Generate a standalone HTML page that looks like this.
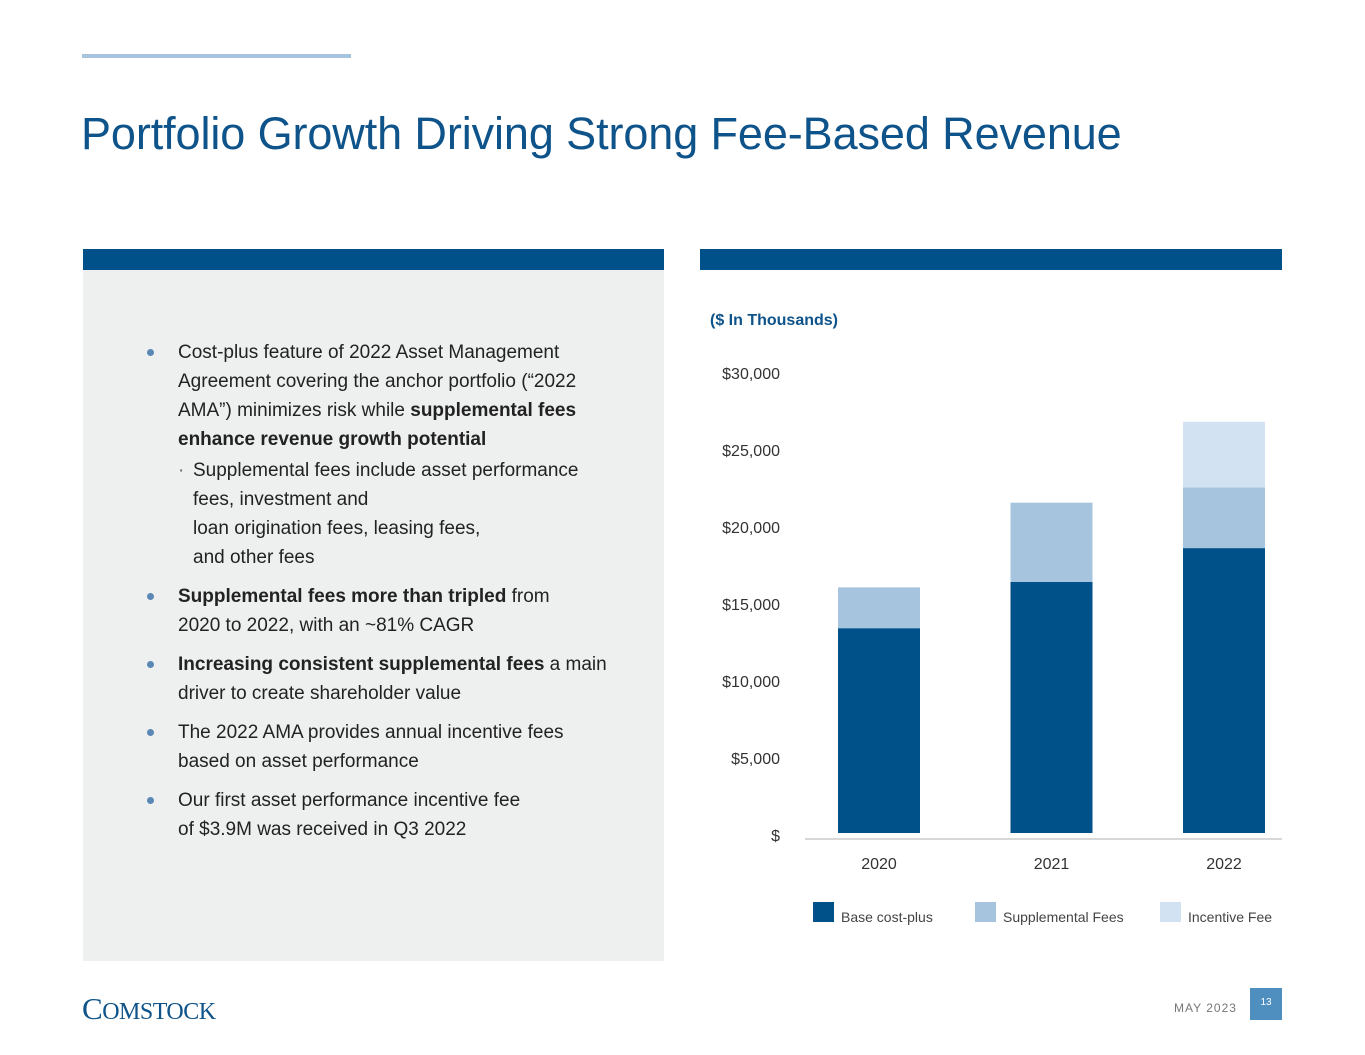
<!DOCTYPE html>
<html><head><meta charset="utf-8"><style>
body{margin:0;width:1365px;height:1055px;background:#fff;font-family:"Liberation Sans",sans-serif;position:relative;overflow:hidden}
.abs{position:absolute}
ul{margin:0;padding:0;list-style:none}
li{position:relative;font-size:19px;line-height:29px;color:#222;margin-bottom:10px}
li.main:before{content:"";position:absolute;left:-31px;top:11px;width:7px;height:7px;border-radius:50%;background:#5b87b5}
li.sub{padding-left:15px;margin-top:2px}
li.sub:before{content:"·";position:absolute;left:0;top:0;color:#666}
b{font-weight:bold}
</style></head><body>
<div class="abs" style="left:82px;top:54px;width:269px;height:4px;background:#a7c4df"></div>
<div class="abs" style="left:81px;top:108px;font-size:45px;color:#0e5389;white-space:nowrap;letter-spacing:-0.1px">Portfolio Growth Driving Strong Fee-Based Revenue</div>

<div class="abs" style="left:83px;top:249px;width:581px;height:712px;background:#eef0ef">
  <div style="height:21px;background:#00518a"></div>
  <ul style="position:absolute;left:95px;top:89px;width:445px">
    <li class="main">Cost-plus feature of 2022 Asset Management Agreement covering the anchor portfolio (“2022 AMA”) minimizes risk while <b>supplemental fees enhance revenue growth potential</b>
      <ul><li class="sub" style="margin-bottom:0">Supplemental fees include asset performance<br>fees, investment and<br>loan origination fees, leasing fees,<br>and other fees</li></ul></li>
    <li class="main"><b>Supplemental fees more than tripled</b> from<br>2020 to 2022, with an ~81% CAGR</li>
    <li class="main"><b>Increasing consistent supplemental fees</b> a main driver to create shareholder value</li>
    <li class="main">The 2022 AMA provides annual incentive fees<br>based on asset performance</li>
    <li class="main">Our first asset performance incentive fee<br>of $3.9M was received in Q3 2022</li>
  </ul>
</div>

<div class="abs" style="left:700px;top:249px;width:582px;height:21px;background:#00518a"></div>
<div class="abs" style="left:710px;top:312px;font-size:16px;font-weight:bold;color:#0e5389">($ In Thousands)</div>

<svg class="abs" id="chart" style="left:0;top:0" width="1365" height="1055"></svg>

<div class="abs" style="left:82px;top:991px;font-family:'Liberation Serif',serif;font-size:31px;color:#0e5389;letter-spacing:-0.5px">C<span style="font-size:24px">OMSTOCK</span></div>
<div class="abs" style="left:1174px;top:1001px;font-size:12px;color:#777;letter-spacing:1px">MAY 2023</div>
<div class="abs" style="left:1250px;top:988px;width:32px;height:32px;background:#4f8fc0;color:#fff;font-size:10px;text-align:center;line-height:30px">13</div>

<script>
const categories=["2020","2021","2022"];
const baseCostPlus=[13300,16300,18500];
const supplementalFees=[2650,5150,3950];
const incentiveFee=[0,0,4250];
const yTicks=[0,5000,10000,15000,20000,25000,30000];
const yTickLabels=["$","$5,000","$10,000","$15,000","$20,000","$25,000","$30,000"];
const ns="http://www.w3.org/2000/svg";
const svg=document.getElementById("chart");
const y=v=>833-v*(77/5000);
const xc=i=>879+i*172.5;
const bw=82;
function el(t,a){const e=document.createElementNS(ns,t);for(const k in a)e.setAttribute(k,a[k]);svg.appendChild(e);return e;}
yTicks.forEach((v,i)=>{
  const t=el("text",{x:780,y:y(v)+8,"text-anchor":"end","font-size":"16","fill":"#333","font-family":"Liberation Sans"});
  t.textContent=yTickLabels[i];
  
  
});
const ax=el("line",{x1:805,x2:1282,y1:839,y2:839,stroke:"#ccc","stroke-width":1.5});


const series=[[baseCostPlus,"#00518a","base"],[supplementalFees,"#a7c4df","supplemental"],[incentiveFee,"#d3e2f3","incentive"]];
categories.forEach((c,i)=>{
  let acc=0;
  series.forEach(s=>{
    const v=s[0][i];
    if(v>0){
      const r=el("rect",{x:xc(i)-bw/2,y:y(acc+v),width:bw,height:y(acc)-y(acc+v),fill:s[1]});
      
      
    }
    acc+=v;
  });
  const t=el("text",{x:xc(i),y:869,"text-anchor":"middle","font-size":"16","fill":"#333","font-family":"Liberation Sans"});
  t.textContent=c;
  
  
});
const legend=[["Base cost-plus","#00518a",813],["Supplemental Fees","#a7c4df",975],["Incentive Fee","#d3e2f3",1160]];
legend.forEach(l=>{
  const r=el("rect",{x:l[2],y:902,width:21,height:20,fill:l[1]});
  
  
  const t=el("text",{x:l[2]+28,y:922,"font-size":"14","fill":"#444","font-family":"Liberation Sans"});
  t.textContent=l[0];
  
  
});
</script>
</body></html>
